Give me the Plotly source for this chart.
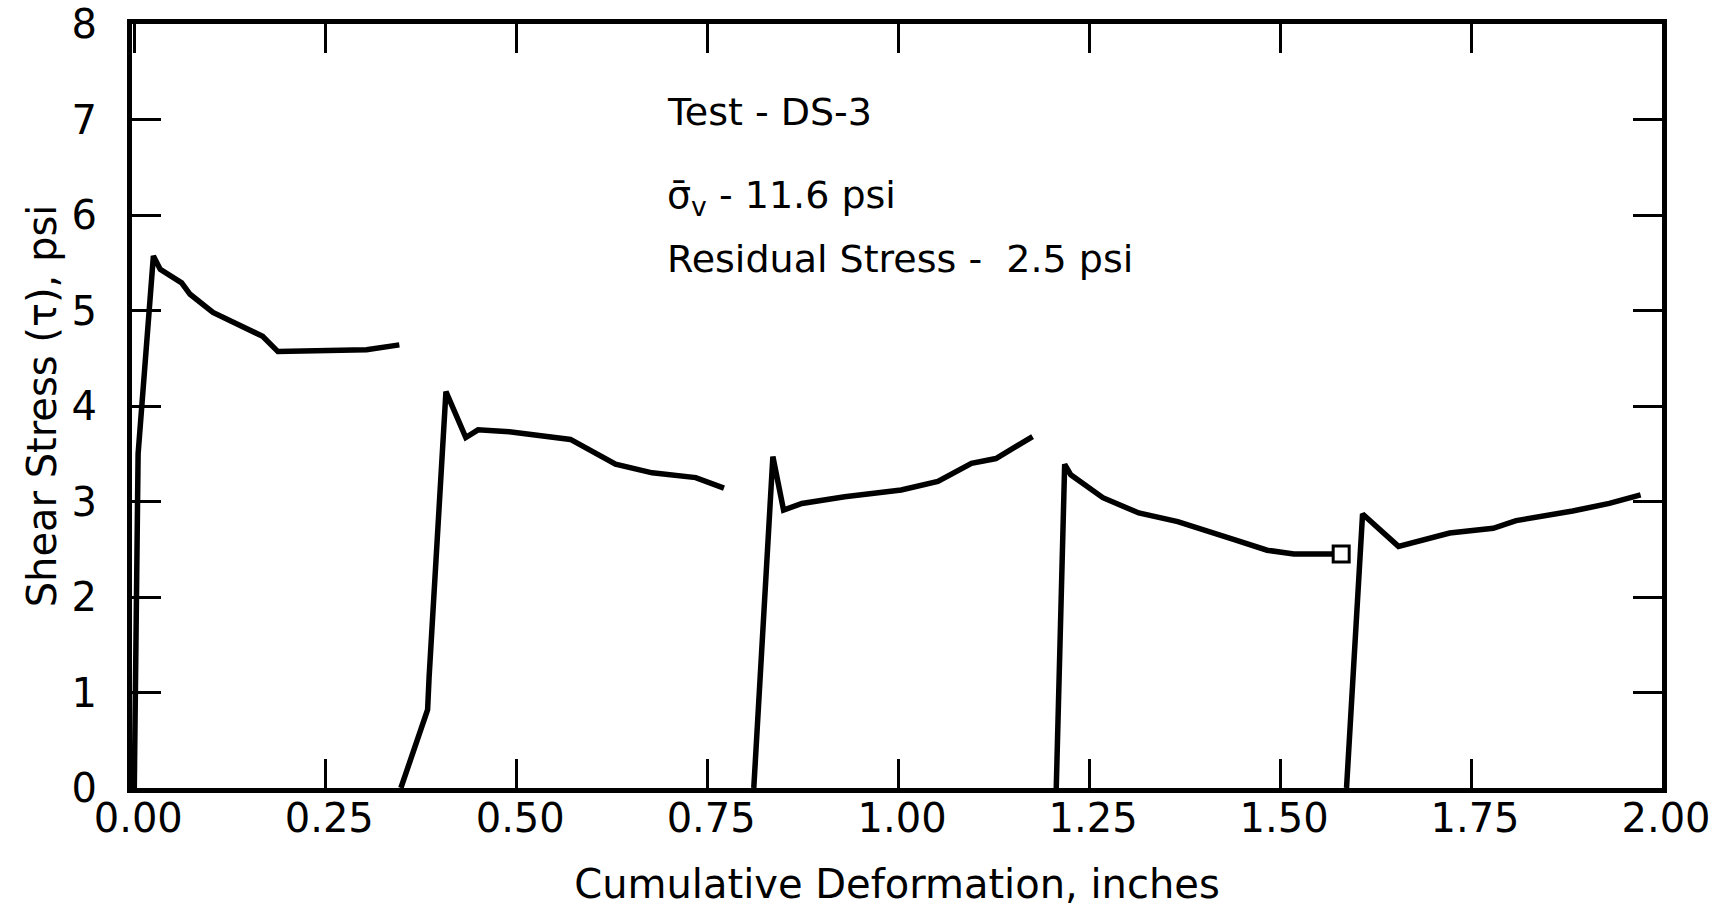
import plotly.graph_objects as go

# ---- data (x: cumulative deformation, inches; y: shear stress, psi)
seg1_x = [0.000, 0.005, 0.025, 0.034, 0.062, 0.073, 0.103, 0.147, 0.168, 0.188, 0.304, 0.347]
seg1_y = [0.00, 3.50, 5.57, 5.43, 5.29, 5.17, 4.98, 4.80, 4.73, 4.57, 4.59, 4.64]

seg2_x = [0.349, 0.384, 0.386, 0.408, 0.434, 0.450, 0.491, 0.534, 0.571, 0.630, 0.678, 0.735, 0.772]
seg2_y = [0.00, 0.82, 1.17, 4.15, 3.67, 3.75, 3.73, 3.68, 3.65, 3.39, 3.30, 3.25, 3.14]

seg3_x = [0.811, 0.836, 0.850, 0.874, 0.930, 0.974, 1.004, 1.052, 1.096, 1.128, 1.176]
seg3_y = [0.00, 3.47, 2.91, 2.98, 3.05, 3.10, 3.12, 3.21, 3.40, 3.45, 3.68]

seg4_x = [1.207, 1.218, 1.226, 1.268, 1.315, 1.366, 1.440, 1.483, 1.518, 1.568]
seg4_y = [0.00, 3.39, 3.28, 3.04, 2.88, 2.79, 2.60, 2.49, 2.45, 2.45]

seg5_x = [1.587, 1.608, 1.655, 1.722, 1.779, 1.809, 1.883, 1.931, 1.972]
seg5_y = [0.00, 2.87, 2.53, 2.67, 2.72, 2.80, 2.90, 2.98, 3.07]

residual_x = [1.580]
residual_y = [2.45]

x_ticks = [0.0, 0.25, 0.5, 0.75, 1.0, 1.25, 1.5, 1.75, 2.0]
x_tick_text = ["0.00", "0.25", "0.50", "0.75", "1.00", "1.25", "1.50", "1.75", "2.00"]
y_ticks = [0, 1, 2, 3, 4, 5, 6, 7, 8]
y_tick_text = ["0", "1", "2", "3", "4", "5", "6", "7", "8"]

notes = ["Test - DS-3", "σ̄<sub>v</sub> - 11.6 psi", "Residual Stress -  2.5 psi"]
notes_y = [7.08, 6.18, 5.54]
notes_x = 0.695

FONT = "DejaVu Sans"

fig = go.Figure()
for xs, ys in [(seg1_x, seg1_y), (seg2_x, seg2_y), (seg3_x, seg3_y), (seg4_x, seg4_y), (seg5_x, seg5_y)]:
    fig.add_trace(go.Scatter(x=xs, y=ys, mode="lines",
                             line=dict(color="black", width=5.5),
                             showlegend=False, hoverinfo="skip"))

fig.add_trace(go.Scatter(x=residual_x, y=residual_y, mode="markers",
                         marker=dict(symbol="square-open", size=16, color="black",
                                     line=dict(color="black", width=3)),
                         showlegend=False, hoverinfo="skip"))

for txt, yy in zip(notes, notes_y):
    fig.add_annotation(x=notes_x, y=yy, xref="x", yref="y", text=txt,
                       showarrow=False, xanchor="left", yanchor="middle",
                       font=dict(family=FONT, size=38, color="black"))

fig.update_xaxes(range=[-0.003, 2.0], tickvals=x_ticks, ticktext=x_tick_text,
                 ticks="inside", ticklen=29, tickwidth=3, tickcolor="black",
                 showline=True, linewidth=5, linecolor="black", mirror="allticks",
                 showgrid=False, zeroline=False, automargin=False,
                 ticklabelshift=4, ticklabelstandoff=-9, ticklabeloverflow="allow",
                 tickfont=dict(family=FONT, size=40, color="black"),
                 title=dict(text="Cumulative Deformation, inches", standoff=31,
                            font=dict(family=FONT, size=40, color="black")))
fig.update_yaxes(range=[0, 8], tickvals=y_ticks, ticktext=y_tick_text,
                 ticks="inside", ticklen=29, tickwidth=3, tickcolor="black",
                 showline=True, linewidth=5, linecolor="black", mirror="allticks",
                 showgrid=False, zeroline=False, automargin=False,
                 ticklabelstandoff=22, ticklabeloverflow="allow",
                 tickfont=dict(family=FONT, size=40, color="black"),
                 title=dict(text="Shear Stress (τ), psi", standoff=4,
                            font=dict(family=FONT, size=40, color="black")))

fig.update_layout(width=1712, height=909, plot_bgcolor="white", paper_bgcolor="white",
                  margin=dict(l=132, r=50, t=24, b=121, autoexpand=False), showlegend=False)

fig.write_html("out.html")
